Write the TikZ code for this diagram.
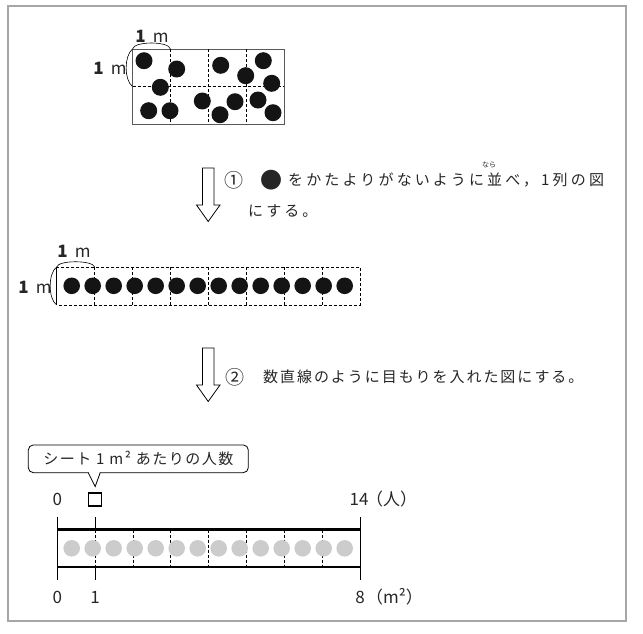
\documentclass[tikz,border=0pt]{standalone}
\usepackage{fontspec}
\newfontfamily\jp{Noto Sans CJK JP}
\usetikzlibrary{calc}
\tikzset{
  txt/.style={font=\jp\fontsize{15}{18}\selectfont, text=black!85, inner sep=0pt},
  lbl/.style={font=\jp\fontsize{17}{18}\selectfont, text=black!85, inner sep=0pt},
  num/.style={font=\jp\fontsize{17}{20}\selectfont, text=black!85, inner sep=0pt},
  cellline/.style={dash pattern=on 3pt off 2pt, line width=0.8pt},
  blackdot/.style={fill=black!92},
  greydot/.style={fill=black!20},
  callout/.style={draw, rounded corners=5pt, line width=0.8pt, fill=white,
    minimum width=220pt, minimum height=27.7pt, inner sep=0pt,
    font=\jp\fontsize{15}{18}\selectfont, text=black!85},
}
\begin{document}
\begin{tikzpicture}[x=1pt,y=-1pt]
   \useasboundingbox (0,0) rectangle (643,633);
   \draw[gray!70, line width=1.5pt] (8,6) rectangle (626,621);

   % scattered sheet, 4 x 2 squares of 1 m
   \draw[gray!70!black, line width=0.8pt] (132.5,49) rectangle (284,124);
   \foreach \x in {170.4,208.3,246.1}
      \draw[cellline] (\x,49) -- (\x,124);
   \draw[cellline] (132.5,86.5) -- (284,86.5);
   \foreach \x/\y in {144/60.7, 176.7/69, 160.3/87.3, 148.7/110.7, 170/110.7,
      220.7/65.3, 245.7/75.7, 263.3/60.7, 271.7/83.3, 202.3/101,
      235/101.7, 220/114.7, 258/100, 273/112.7}
      \fill[blackdot] (\x,\y) circle (8.5pt);
   \node[lbl] (sheettop) at (152,36) {\textbf{1}\hspace{7pt}m};
   \node[lbl] (sheetleft) at (110,68) {\textbf{1}\hspace{7pt}m};
   \draw[line width=0.6pt] (132.5,49) .. controls (134,41) and (169,41) .. (170.4,49);
   \draw[line width=0.6pt] (132.5,49) .. controls (124,56) and (124,80) .. (132.5,86.5);

   % hollow arrows
   \foreach \t in {168,348}
      \draw[line width=0.8pt, fill=white] (202.5,\t) -- (214,\t) -- (214,\t+37)
         -- (220,\t+37) -- (208.2,\t+53.5) -- (196.5,\t+37) -- (202.5,\t+37) -- cycle;

   \node[txt, font=\jp\fontsize{19}{20}\selectfont] (stepone) at (234,180) {①};
   \node[txt, font=\jp\fontsize{22}{22}\selectfont] (dotmark) at (271.5,180) {●};
   \node[txt, anchor=west] (lineone) at (288,180)
      {\addfontfeature{LetterSpace=21}をかたよりがないように並べ，1列の図};
   \node[txt, font=\jp\fontsize{7}{8}\selectfont] (ruby) at (489,165) {なら};
   \node[txt, anchor=west] (linetwo) at (248,211) {\addfontfeature{LetterSpace=20}にする。};

   % one row, 8 squares of 1 m
   \draw[cellline] (56.7,267) rectangle (360,305);
   \draw[line width=0.8pt] (56.7,267) -- (56.7,305);
   \foreach \k in {1,...,7}
      \draw[cellline] (56.7+37.9*\k,267) -- (56.7+37.9*\k,305);
   \foreach \k in {0,...,13}
      \fill[blackdot] (71.7+21*\k,285.8) circle (8.3pt);
   \node[lbl] (rowtop) at (74,251) {\textbf{1}\hspace{7pt}m};
   \node[lbl] (rowleft) at (35,287) {\textbf{1}\hspace{7pt}m};
   \draw[line width=0.6pt] (56.7,267) .. controls (58,260) and (93,260) .. (94.6,267);
   \draw[line width=0.6pt] (56.7,267) .. controls (48,273) and (48,299) .. (56.7,305);

   \node[txt, font=\jp\fontsize{19}{20}\selectfont] (steptwo) at (235,377) {②};
   \node[txt, anchor=west] (linethree) at (263,377)
      {\addfontfeature{LetterSpace=13}数直線のように目もりを入れた図にする。};

   % number line
   \node[callout] (note) at (138.3,458.8)
      {\addfontfeature{LetterSpace=10}シート 1 m² あたりの人数};
   \coordinate (tip) at (95.2,486.5);
   \fill[white] ($(tip)+(-6.6,-14.6)$) -- (tip) -- ($(tip)+(4.6,-14.6)$) -- cycle;
   \draw[line width=0.8pt] ($(tip)+(-7,-13.8)$) -- (tip) -- ($(tip)+(5,-13.8)$);

   \node[num] (topzero) at (57.3,499.5) {0};
   \node[draw, line width=1.2pt, minimum size=13pt, inner sep=0pt] (blank) at (95.2,499.5) {};
   \node[num] (topend) at (359,499.5) {14};
   \node[num, anchor=west] (topunit) at (366,499.5) {（人）};

   \draw[line width=2.2pt] (57.3,529.5) -- (360,529.5);
   \draw[line width=2.2pt] (57.3,567) -- (360,567);
   \draw[line width=0.9pt] (57.3,517) -- (57.3,580);
   \draw[line width=0.9pt] (360,517) -- (360,580);
   \draw[line width=0.9pt] (95.2,517) -- (95.2,529.5);
   \draw[line width=0.9pt] (95.2,567) -- (95.2,580);
   \foreach \k in {1,...,7}
      \draw[cellline] (57.3+37.84*\k,529.5) -- (57.3+37.84*\k,567);
   \foreach \k in {0,...,13}
      \fill[greydot] (71.7+21*\k,548.3) circle (8.3pt);

   \node[num] (botzero) at (57.3,597) {0};
   \node[num] (botone) at (95.2,597) {1};
   \node[num] (botend) at (360,597) {8};
   \node[num, anchor=west] (botunit) at (366,597) {（m²）};
\end{tikzpicture}
\end{document}
